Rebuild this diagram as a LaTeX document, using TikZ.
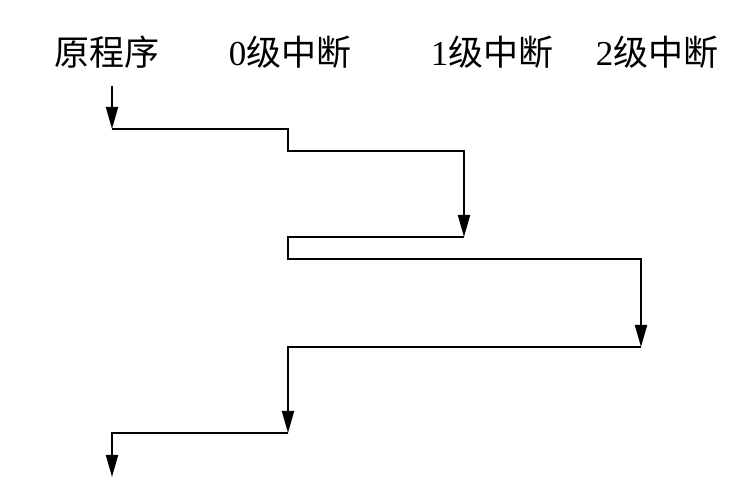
\documentclass[tikz,border=0pt]{standalone}
\usepackage{fontspec}
\setmainfont{Liberation Serif}
\newfontfamily\cjk{Noto Sans CJK SC}
\usepackage{tikz}
\usetikzlibrary{arrows.meta}
\tikzset{flow/.style={line width=2pt, line join=miter},
  flowarr/.style={flow, -{Triangle[length=22pt,width=12pt]}},
  level label/.style={font=\fontsize{35}{40}\selectfont, inner sep=0pt}}

\begin{document}
\begin{tikzpicture}[x=1pt, y=1pt]
    \useasboundingbox (0,0) rectangle (740,486);
    % column titles
    \node[level label] (main) at (107,434) {\cjk 原程序};
    \node[level label] (lv0) at (290,434) {0\cjk 级中断};
    \node[level label] (lv1) at (492,434) {1\cjk 级中断};
    \node[level label] (lv2) at (657,434) {2\cjk 级中断};
    % turning points
    \coordinate (start) at (112,400);
    \coordinate (i0) at (112,357);
    \coordinate (r1) at (464,249);
    \coordinate (r2) at (641,139);
    \coordinate (back0) at (288,53);
    \coordinate (stop) at (112,9);
    \draw[flowarr] (start) -- (i0);
    \draw[flowarr] (i0) -- (288,357) -- (288,335) -- (464,335) -- (r1);
    \draw[flowarr] (r1) -- (288,249) -- (288,227) -- (641,227) -- (r2);
    \draw[flowarr] (r2) -- (288,139) -- (back0);
    \draw[flowarr] (back0) -- (112,53) -- (stop);
  \end{tikzpicture}
\end{document}
